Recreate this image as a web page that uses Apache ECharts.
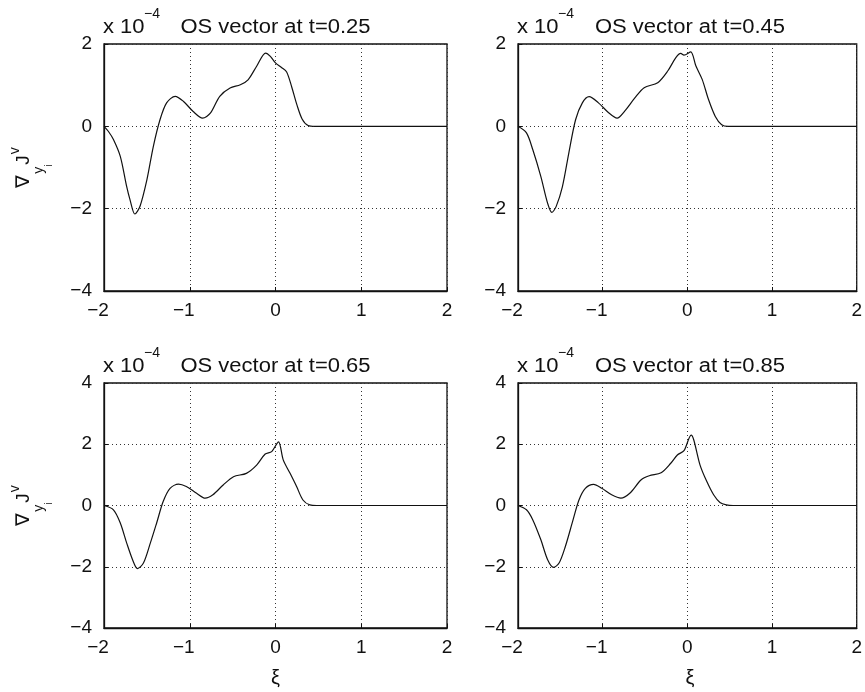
<!DOCTYPE html>
<html>
<head>
<meta charset="utf-8">
<script src="https://cdn.jsdelivr.net/npm/echarts@6/dist/echarts.min.js"></script>
<style>
  html, body { margin: 0; padding: 0; background: #fff; }
  #chart { width: 865px; height: 692px; }
</style>
</head>
<body>
<div id="chart"></div>
<script>
// OS vector snapshots (values in units of 1e-4)
const xi1 = [-2,-1.95,-1.89,-1.81,-1.736,-1.697,-1.64,-1.58,-1.50,-1.425,-1.347,-1.27,-1.17,-1.075,-0.96,-0.85,-0.76,-0.65,-0.53,-0.41,-0.32,-0.22,-0.115,-0.06,0,0.07,0.13,0.19,0.25,0.31,0.38,0.46,2];
const y1  = [0,-0.12,-0.32,-0.73,-1.46,-1.78,-2.13,-1.94,-1.30,-0.49,0.16,0.57,0.73,0.61,0.36,0.20,0.32,0.73,0.93,1.01,1.13,1.46,1.78,1.70,1.54,1.43,1.32,0.95,0.52,0.18,0.02,0,0];

const xi2 = [-2,-1.90,-1.825,-1.73,-1.65,-1.60,-1.55,-1.476,-1.40,-1.32,-1.24,-1.16,-1.05,-0.93,-0.83,-0.74,-0.62,-0.51,-0.35,-0.23,-0.136,-0.078,-0.04,0.04,0.10,0.175,0.25,0.33,0.405,0.48,2];
const y2  = [0,-0.16,-0.57,-1.22,-1.87,-2.09,-1.95,-1.47,-0.65,0.16,0.57,0.72,0.57,0.33,0.20,0.37,0.69,0.94,1.06,1.35,1.67,1.77,1.73,1.81,1.47,1.14,0.65,0.24,0.04,0,0];

const xi3 = [-2,-1.89,-1.81,-1.735,-1.66,-1.61,-1.54,-1.46,-1.386,-1.31,-1.23,-1.13,-1.04,-0.92,-0.82,-0.73,-0.61,-0.49,-0.34,-0.22,-0.12,-0.045,0.035,0.09,0.17,0.246,0.32,0.40,0.48,2];
const y3  = [0,-0.14,-0.57,-1.23,-1.82,-2.06,-1.88,-1.23,-0.57,0.13,0.56,0.70,0.62,0.40,0.24,0.35,0.67,0.94,1.05,1.32,1.68,1.76,2.08,1.49,1.05,0.62,0.18,0.02,0,0];

const xi4 = [-2,-1.90,-1.825,-1.73,-1.65,-1.58,-1.515,-1.44,-1.36,-1.28,-1.205,-1.107,-1.01,-0.894,-0.785,-0.68,-0.545,-0.45,-0.31,-0.196,-0.118,-0.04,0.045,0.076,0.15,0.23,0.31,0.385,0.46,0.54,2];
const y4  = [0,-0.14,-0.47,-1.12,-1.77,-2.02,-1.88,-1.33,-0.57,0.18,0.56,0.69,0.56,0.35,0.24,0.40,0.84,0.97,1.07,1.38,1.65,1.79,2.30,2.14,1.32,0.78,0.35,0.10,0.02,0,0];

const titles = ['OS vector at t=0.25', 'OS vector at t=0.45', 'OS vector at t=0.65', 'OS vector at t=0.85'];
const yRanges = [[-4, 2], [-4, 2], [-4, 4], [-4, 4]];
const xRange = [-2, 2];
const yName = '{n|\u2207}{s|y}{ss|i}{j|J}{p|v}';

const FONT = '"Liberation Sans", Arial, Helvetica, sans-serif';
const INK = '#111';

const panels = [
  { left: 104, top: 44, width: 343, height: 247, xs: xi1, ys: y1, named: true },
  { left: 518, top: 44, width: 344, height: 247, xs: xi2, ys: y2, named: false },
  { left: 104, top: 383, width: 343, height: 245, xs: xi3, ys: y3, named: true },
  { left: 518, top: 383, width: 344, height: 245, xs: xi4, ys: y4, named: false }
];

const base = { fontFamily: FONT, color: INK, fontSize: 19 };
const fmtY = v => (v < 0 ? '\u2212' + Math.abs(v) : String(v));
// negative x labels sit slightly left of their tick
const fmtX = v => (v < 0 ? '{m|\u2212' + Math.abs(v) + '}' : '{d|' + v + '}');

const grid = [], xAxis = [], yAxis = [], series = [], graphic = [];

panels.forEach((p, i) => {
  grid.push({
    left: p.left, top: p.top, width: p.width, height: p.height,
    show: true, borderColor: INK, borderWidth: 1.3, backgroundColor: '#fff'
  });
  const split = { show: true, lineStyle: { color: '#333', type: [1, 3], width: 1 } };
  xAxis.push({
    type: 'value', gridIndex: i, min: xRange[0], max: xRange[1], interval: 1,
    axisLine: { show: true, onZero: false, lineStyle: { color: INK, width: 1.3 } },
    axisTick: { show: true, inside: true, length: 4, lineStyle: { color: INK } },
    axisLabel: Object.assign({}, base, {
      margin: 10, formatter: fmtX, showMinLabel: true, showMaxLabel: true,
      rich: {
        m: Object.assign({}, base, { padding: [0, 12, 0, 0] }),
        d: Object.assign({}, base)
      }
    }),
    splitLine: split
  });
  yAxis.push({
    type: 'value', gridIndex: i, min: yRanges[i][0], max: yRanges[i][1], interval: 2,
    axisLine: { show: true, onZero: false, lineStyle: { color: INK, width: 1.3 } },
    axisTick: { show: true, inside: true, length: 4, lineStyle: { color: INK } },
    axisLabel: Object.assign({}, base, { margin: 12, formatter: fmtY, showMinLabel: true, showMaxLabel: true }),
    splitLine: split,
    name: p.named ? yName : '',
    nameLocation: 'middle',
    nameRotate: 90,
    nameGap: 50,
    nameTextStyle: Object.assign({}, base, {
      rich: {
        n: Object.assign({}, base, { fontSize: 19 }),
        s: Object.assign({}, base, { fontSize: 14, padding: [31, 0, 0, 1] }),
        ss: Object.assign({}, base, { fontSize: 10, padding: [51, 0, 0, 0] }),
        j: Object.assign({}, base, { fontSize: 19, padding: [0, 0, 0, 0] }),
        p: Object.assign({}, base, { fontSize: 14, padding: [0, 0, 16, 1] })
      }
    })
  });
  series.push({
    type: 'line', xAxisIndex: i, yAxisIndex: i,
    data: p.xs.map((x, k) => [x, p.ys[k]]),
    showSymbol: false, smooth: 0.3,
    lineStyle: { color: INK, width: 1.2 },
    clip: true, silent: true
  });

  // title row: scale factor at the left, caption centred over the axes
  const ty = p.top - 17;
  graphic.push({
    type: 'text', x: p.left - 1, y: ty,
    scaleX: 1.1,
    style: { text: 'x 10', fontSize: 20, fontFamily: FONT, fill: INK, align: 'left', verticalAlign: 'middle' }
  });
  graphic.push({
    type: 'text', x: p.left + 40, y: ty - 13,
    style: { text: '\u22124', fontSize: 14, fontFamily: FONT, fill: INK, align: 'left', verticalAlign: 'middle' }
  });
  graphic.push({
    type: 'text', x: p.left + p.width / 2, y: ty,
    scaleX: 1.1,
    style: { text: titles[i], fontSize: 20, fontFamily: FONT, fill: INK, align: 'center', verticalAlign: 'middle' }
  });
});

// x-axis label for the bottom row
[275.5, 690].forEach(cx => {
  graphic.push({
    type: 'text', x: cx, y: 678,
    style: { text: '\u03be', fontSize: 20, fontFamily: FONT, fill: INK, align: 'center', verticalAlign: 'middle' }
  });
});

const chart = echarts.init(document.getElementById('chart'), null, { renderer: 'canvas' });
chart.setOption({
  backgroundColor: '#fff',
  animation: false,
  grid, xAxis, yAxis, series, graphic
});
</script>
</body>
</html>
